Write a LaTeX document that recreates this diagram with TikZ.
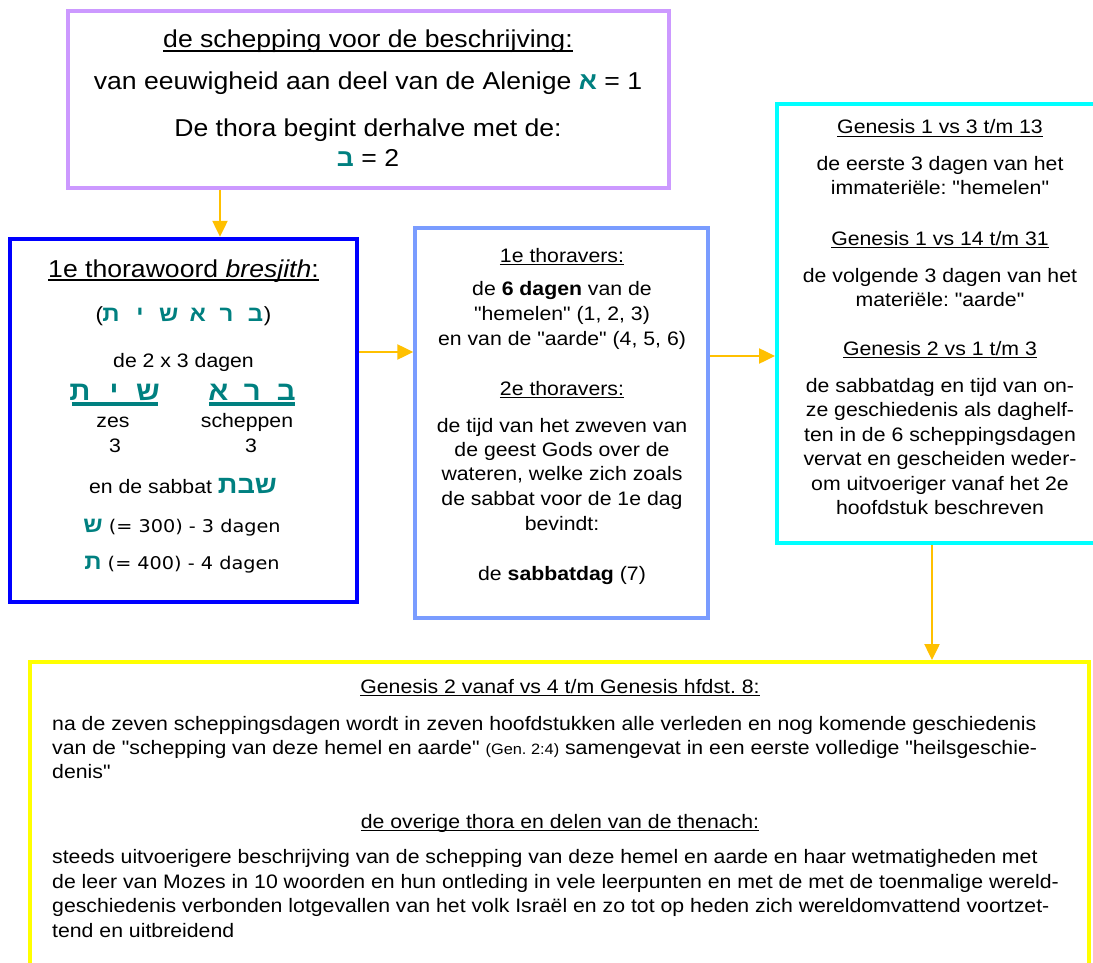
\documentclass[tikz,border=0pt]{standalone}
\usepackage{fontspec}
\usetikzlibrary{arrows.meta}
\setmainfont{Liberation Sans}[FakeStretch=1.09,Ligatures=TeXOff]
\newfontfamily\hebf[Script=Hebrew,FakeStretch=1.09]{Liberation Sans}
\newfontfamily\dvf[FakeStretch=1.1]{DejaVu Sans}
\TeXXeTstate=1
\frenchspacing
\definecolor{cpurp}{HTML}{CC99FF}
\definecolor{cblue}{HTML}{0000FF}
\definecolor{cmid}{HTML}{7A9CFF}
\definecolor{ccyan}{HTML}{00FFFF}
\definecolor{cyel}{HTML}{FFFF00}
\definecolor{carrow}{HTML}{FFC000}
\definecolor{hebteal}{HTML}{008080}
\newsavebox\ulbox
\newcommand\ulx[1]{\sbox\ulbox{#1}\rlap{\rule[-0.17em]{\wd\ulbox}{0.075em}}\usebox\ulbox}
\newcommand\hb[1]{{\hebf\bfseries\color{hebteal}#1}}
\tikzset{
  box/.style={rectangle, inner sep=0pt, fill=none},
  t/.style={anchor=base, inner sep=0pt, font=\fontsize{19.5}{23}\selectfont\frenchspacing},
  tl/.style={t, anchor=base west},
  big/.style={t, font=\fontsize{24.4}{28}\selectfont\frenchspacing},
  arr/.style={draw=carrow, line width=2.5pt, -{Triangle[length=16pt,width=15pt]}}
}
\begin{document}
\begin{tikzpicture}[x=1pt,y=-1pt]
\useasboundingbox (0,0) rectangle (1093,963);
\fill[white] (0,0) rectangle (1093,963);
\clip (0,0) rectangle (1093,963);
% boxes
\node[box, draw=cpurp, line width=4pt, minimum width=601pt, minimum height=177pt] (top) at (368.5,99.5) {};
\node[box, draw=cblue, line width=4.5pt, minimum width=347pt, minimum height=363pt] (left) at (183.5,420.5) {};
\node[box, draw=cmid, line width=3.5pt, minimum width=293pt, minimum height=390pt] (mid) at (561.5,423) {};
\node[box, draw=ccyan, line width=4pt, minimum width=328pt, minimum height=439pt] (right) at (941,323.5) {};
\node[box, draw=cyel, line width=4pt, minimum width=1059pt, minimum height=338pt] (bot) at (559.5,831) {};
% arrows
\coordinate (a1) at (220,0);
\coordinate (a2) at (0,352);
\coordinate (a3) at (0,356);
\coordinate (a4) at (932,0);
\draw[arr] (top.south -| a1) -- (left.north -| a1);
\draw[arr] (left.east |- a2) -- (mid.west |- a2);
\draw[arr] (mid.east |- a3) -- (right.west |- a3);
\draw[arr] (right.south -| a4) -- (bot.north -| a4);
% top box text
\node[big] (t1) at (368,48) {\ulx{de schepping voor de beschrijving:}};
\node[big] (t2) at (368,90) {van eeuwigheid aan deel van de Alenige \hb{א} = 1};
\node[big] (t3) at (368,137) {De thora begint derhalve met de:};
\node[big] (t4) at (368,167) {\hb{ב} = 2};
% left box text
\node[big] (l1) at (183.5,277) {\ulx{1e thorawoord \textit{bresjith}:}};
\node[t, font=\fontsize{20.5}{23}\selectfont] (l2) at (183.3,321) {\makebox[0pt][r]{(\kern-6.5pt}{\fontsize{22}{24}\selectfont\hb{\makebox[28.9pt]{ת}\makebox[28.9pt]{י}\makebox[28.9pt]{ש}\makebox[28.9pt]{א}\makebox[28.9pt]{ר}\makebox[28.9pt]{ב}}}\makebox[0pt][l]{\kern-6pt)}};
\node[t] (l3) at (183.5,367) {de 2 x 3 dagen};
\node[t, font=\fontsize{27}{29}\selectfont] (l4a) at (114,400) {\hb{\makebox[34pt]{ת}\makebox[34pt]{י}\makebox[34pt]{ש}\llap{\rule[-5.5pt]{86pt}{3.5pt}\kern7pt}}};
\node[t, font=\fontsize{27}{29}\selectfont] (l4b) at (252.3,400) {\hb{\makebox[34pt]{א}\makebox[34pt]{ר}\makebox[34pt]{ב}\llap{\rule[-5.5pt]{86pt}{3.5pt}\kern8pt}}};
\node[t] (l5a) at (113,427) {zes};
\node[t] (l5b) at (247,427) {scheppen};
\node[t] (l6a) at (115,452) {3};
\node[t] (l6b) at (251,452) {3};
\node[t] (l7) at (183,493) {en de sabbat {\fontsize{25}{27}\selectfont\hb{\beginR שבת\endR}}};
\node[t] (l8) at (182,532) {{\fontsize{22}{24}\selectfont\hb{ש}}{\dvf\fontsize{17.5}{20}\selectfont\ (= 300) - 3 dagen}};
\node[t] (l9) at (182,569) {{\fontsize{22}{24}\selectfont\hb{ת}}{\dvf\fontsize{17.5}{20}\selectfont\ (= 400) - 4 dagen}};
% middle box text
\node[t] (m1) at (562,262) {\ulx{1e thoravers:}};
\node[t] (m2) at (562,295) {de \textbf{6 dagen} van de};
\node[t] (m3) at (562,320) {"hemelen" (1, 2, 3)};
\node[t] (m4) at (562,345) {en van de "aarde" (4, 5, 6)};
\node[t] (m5) at (562,395) {\ulx{2e thoravers:}};
\node[t] (m6) at (562,432) {de tijd van het zweven van};
\node[t] (m7) at (562,456) {de geest Gods over de};
\node[t] (m8) at (562,480) {wateren, welke zich zoals};
\node[t] (m9) at (562,505) {de sabbat voor de 1e dag};
\node[t] (m10) at (562,530) {bevindt:};
\node[t] (m11) at (562,580) {de \textbf{sabbatdag} (7)};
% right box text
\node[t] (r1) at (940,134) {\ulx{Genesis 1 vs 3 t/m 13}};
\node[t] (r2) at (940,171) {de eerste 3 dagen van het};
\node[t] (r3) at (940,194) {immateriële: "hemelen"};
\node[t] (r4) at (940,245) {\ulx{Genesis 1 vs 14 t/m 31}};
\node[t] (r5) at (940,282) {de volgende 3 dagen van het};
\node[t] (r6) at (940,306) {materiële: "aarde"};
\node[t] (r7) at (940,355) {\ulx{Genesis 2 vs 1 t/m 3}};
\node[t] (r8) at (940,392) {de sabbatdag en tijd van on-};
\node[t] (r9) at (940,416) {ze geschiedenis als daghelf-};
\node[t] (r10) at (940,441) {ten in de 6 scheppingsdagen};
\node[t] (r11) at (940,465) {vervat en gescheiden weder-};
\node[t] (r12) at (940,490) {om uitvoeriger vanaf het 2e};
\node[t] (r13) at (940,514) {hoofdstuk beschreven};
% bottom box text
\node[t] (b1) at (560,693) {\ulx{Genesis 2 vanaf vs 4 t/m Genesis hfdst. 8:}};
\node[tl] (b2) at (52,730) {na de zeven scheppingsdagen wordt in zeven hoofdstukken alle verleden en nog komende geschiedenis};
\node[tl] (b3) at (52,754) {van de "schepping van deze hemel en aarde" {\fontsize{15}{18}\selectfont (Gen. 2:4)} samengevat in een eerste volledige "heilsgeschie-};
\node[tl] (b4) at (52,778) {denis"};
\node[t] (b5) at (560,828) {\ulx{de overige thora en delen van de thenach:}};
\node[tl] (b6) at (52,863) {steeds uitvoerigere beschrijving van de schepping van deze hemel en aarde en haar wetmatigheden met};
\node[tl] (b7) at (52,888) {de leer van Mozes in 10 woorden en hun ontleding in vele leerpunten en met de met de toenmalige wereld-};
\node[tl] (b8) at (52,912) {geschiedenis verbonden lotgevallen van het volk Israël en zo tot op heden zich wereldomvattend voortzet-};
\node[tl] (b9) at (52,937) {tend en uitbreidend};
\end{tikzpicture}
\end{document}
